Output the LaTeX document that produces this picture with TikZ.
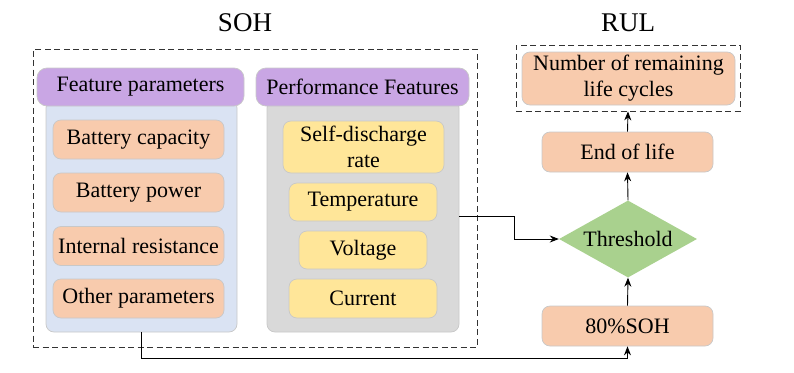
\documentclass[tikz,border=0pt]{standalone}
\usepackage{fontspec}
\setmainfont{Liberation Serif}
\usetikzlibrary{shapes.geometric,arrows.meta}
\definecolor{orng}{HTML}{F8CBAD}
\definecolor{yell}{HTML}{FFE699}
\definecolor{purp}{HTML}{C9A6E4}
\definecolor{bluep}{HTML}{DAE3F3}
\definecolor{grayp}{HTML}{D9D9D9}
\definecolor{grn}{HTML}{A9D18E}
\definecolor{edge}{HTML}{C8C8C8}
\begin{document}
\begin{tikzpicture}[x=1pt,y=-1pt,
  txt/.style={font=\fontsize{22}{26}\selectfont},
  box/.style={txt, draw=edge, rounded corners=8pt, line width=0.7pt, align=center, inner sep=0pt},
  obox/.style={box, fill=orng},
  ybox/.style={box, fill=yell},
  hbox/.style={box, fill=purp, rounded corners=10pt},
  panel/.style={draw=edge, rounded corners=8pt, line width=0.7pt, inner sep=0pt},
  dashbox/.style={draw=black!80, line width=0.8pt, dash pattern=on 6pt off 3.5pt, inner sep=0pt},
  arr/.style={draw=black, line width=0.9pt, -{Stealth[length=9pt,width=7pt]}},
  conn/.style={draw=black, line width=0.9pt}
]
\useasboundingbox (0,0) rectangle (794,372);
% dashed frames
\node[dashbox, minimum width=444pt, minimum height=298pt] (sohbox) at (255,198) {};
\node[dashbox, minimum width=224pt, minimum height=66pt] (rulbox) at (628,78) {};
\node[font=\fontsize{27}{30}\selectfont] (sohlab) at (245,23) {SOH};
\node[font=\fontsize{27}{30}\selectfont] (rullab) at (628,23) {RUL};
% panels
\node[panel, fill=bluep, minimum width=191pt, minimum height=232pt] (bp) at (141.5,216) {};
\node[panel, fill=grayp, minimum width=192pt, minimum height=232pt] (gp) at (363,216) {};
\node[hbox, minimum width=207pt, minimum height=38pt] (fph) at (140.5,87) {Feature parameters};
\node[hbox, minimum width=213pt, minimum height=38pt] (pfh) at (362.5,87) {Performance Features};
% feature boxes
\node[obox, minimum width=171pt, minimum height=39pt] (bc) at (138.5,139.5) {Battery capacity};
\node[obox, minimum width=171pt, minimum height=39pt] (bpw) at (138.5,192.5) {Battery power};
\node[obox, minimum width=171pt, minimum height=39pt] (ir) at (138.5,246) {Internal resistance};
\node[obox, minimum width=171pt, minimum height=39pt] (op) at (138.5,298.5) {Other parameters};
% performance boxes
\node[ybox, minimum width=161pt, minimum height=52pt] (sd) at (363.5,147) {Self-discharge\\rate};
\node[ybox, minimum width=148pt, minimum height=38pt] (tp) at (363,202) {Temperature};
\node[ybox, minimum width=128pt, minimum height=38pt] (vo) at (363,250) {Voltage};
\node[ybox, minimum width=148pt, minimum height=39pt] (cu) at (363,298.5) {Current};
% right column
\node[obox, minimum width=213pt, minimum height=53pt] (nrl) at (628.5,78.5) {Number of remaining\\life cycles};
\node[obox, minimum width=171pt, minimum height=40pt] (eol) at (627.5,152) {End of life};
\node[txt, diamond, fill=grn, aspect=1.8, inner sep=0pt, minimum width=138pt, minimum height=77pt] (thr) at (628,239) {Threshold};
\node[obox, minimum width=171pt, minimum height=40pt] (soh80) at (627.5,326) {80\%SOH};
% connectors
\draw[arr] (thr.north) -- (eol.south);
\draw[arr] (eol.north) -- (rulbox.south);
\draw[arr] (soh80.north) -- (thr.south);
\draw[arr] (gp.east) -- ++(55,0) |- (thr.west);
\draw[arr] (bp.south) -- ++(0,26) -| (soh80.south);
\end{tikzpicture}
\end{document}
